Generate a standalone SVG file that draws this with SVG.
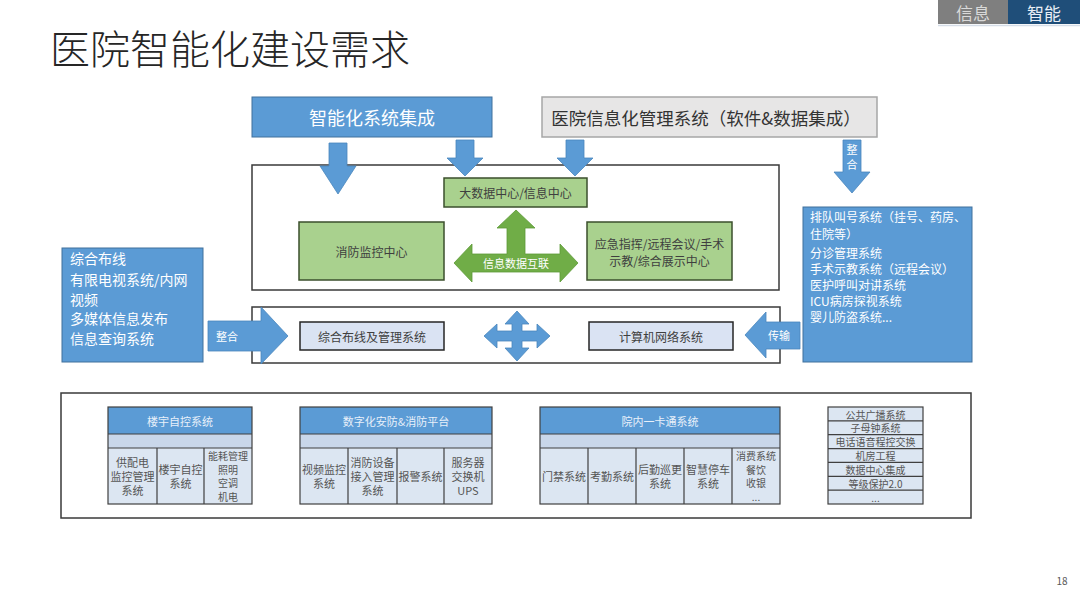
<svg xmlns="http://www.w3.org/2000/svg" width="1080" height="608" viewBox="0 0 1080 608">
<style>
text{font-family:"Noto Sans CJK SC","Noto Sans",sans-serif;}
.blue{fill:#5b9bd5;stroke:#41719c;stroke-width:1}
.cont{fill:#ffffff;stroke:#3a3a3a;stroke-width:1.5}
.green{fill:#a9d18e;stroke:#3b4f2c;stroke-width:1.5}
.lb{fill:#dae3f3;stroke:#262626;stroke-width:1.5}
.arr{fill:#5b9bd5;stroke:#4a86bd;stroke-width:0.8}
.garr{fill:#70ad47;stroke:#5e9a38;stroke-width:0.8}
.wt{fill:#ffffff;font-size:11px}
.dk{fill:#3f3f3f;font-size:12px}
.cell{fill:#555555;font-size:11px}
.c4{font-size:10px}
.hdr{fill:#5b9bd5}
.blank{fill:#c9d7ea}
.cbg{fill:#dce6f2}
.tl{stroke:#404040;stroke-width:1.2;fill:none}
.tt{fill:#e8f0fa;font-size:11px}
</style>
<rect width="1080" height="608" fill="#ffffff"/>

<g id="tabs">
<rect x="938" y="0" width="70" height="24" fill="#7f7f7f"/>
<text x="973" y="12" font-size="17" fill="#d9d9d9" text-anchor="middle" dominant-baseline="central">信息</text>
<rect x="1008" y="0" width="72" height="24" fill="#1f4e79"/>
<text x="1044" y="12" font-size="17" fill="#e8eef6" text-anchor="middle" dominant-baseline="central">智能</text>
<line x1="938" y1="25.5" x2="1080" y2="25.5" stroke="#d5dde8" stroke-width="1.5"/>
</g>

<g id="title">
<text x="50" y="47" font-size="40" font-weight="300" fill="#262626" dominant-baseline="central">医院智能化建设需求</text>
</g>

<g id="zhinenghua">
<rect class="blue" x="252" y="97" width="240" height="40"/>
<text x="372" y="117" font-size="18" fill="#ffffff" text-anchor="middle" dominant-baseline="central">智能化系统集成</text>
</g>

<g id="his">
<rect x="542" y="97" width="335" height="40" fill="#e7e6e6" stroke="#a6a6a6" stroke-width="1.5"/>
<text x="706" y="117" font-size="17.5" fill="#333333" text-anchor="middle" dominant-baseline="central">医院信息化管理系统（软件&amp;数据集成）</text>
</g>

<g id="upper-container">
<rect class="cont" x="252" y="165" width="527" height="125"/>
</g>

<g id="lower-container">
<rect class="cont" x="252" y="307" width="528" height="56"/>
</g>

<g id="bigdata">
<rect class="green" x="444" y="178" width="143" height="29"/>
<text class="dk" x="515.5" y="192.5" text-anchor="middle" dominant-baseline="central">大数据中心/信息中心</text>
</g>

<g id="fire-center">
<rect class="green" x="299" y="222" width="145" height="58"/>
<text class="dk" x="371.5" y="251" text-anchor="middle" dominant-baseline="central">消防监控中心</text>
</g>

<g id="emergency">
<rect class="green" x="587" y="222" width="145" height="58"/>
<text class="dk" x="659.5" y="243" text-anchor="middle" dominant-baseline="central">应急指挥/远程会议/手术</text>
<text class="dk" x="659.5" y="260" text-anchor="middle" dominant-baseline="central">示教/综合展示中心</text>
</g>

<g id="cabling">
<rect class="lb" x="300" y="322" width="144" height="28"/>
<text class="dk" x="372" y="336" text-anchor="middle" dominant-baseline="central">综合布线及管理系统</text>
</g>

<g id="network">
<rect class="lb" x="589" y="322" width="144" height="28"/>
<text class="dk" x="661" y="336" text-anchor="middle" dominant-baseline="central">计算机网络系统</text>
</g>

<g id="left-list">
<rect class="blue" x="62" y="248" width="141" height="114"/>
<g fill="#ffffff" font-size="14">
<text x="70" y="258" dominant-baseline="central">综合布线</text>
<text x="70" y="279" dominant-baseline="central">有限电视系统/内网</text>
<text x="70" y="298.5" dominant-baseline="central">视频</text>
<text x="70" y="318" dominant-baseline="central">多媒体信息发布</text>
<text x="70" y="337.5" dominant-baseline="central">信息查询系统</text>
</g>
</g>

<g id="right-list">
<rect class="blue" x="803" y="207" width="169" height="155"/>
<g fill="#ffffff" font-size="12">
<text x="810" y="216" dominant-baseline="central">排队叫号系统（挂号、药房、</text>
<text x="810" y="233" dominant-baseline="central">住院等）</text>
<text x="810" y="252" dominant-baseline="central">分诊管理系统</text>
<text x="810" y="268" dominant-baseline="central">手术示教系统（远程会议）</text>
<text x="810" y="284" dominant-baseline="central">医护呼叫对讲系统</text>
<text x="810" y="300" dominant-baseline="central">ICU病房探视系统</text>
<text x="810" y="316" dominant-baseline="central">婴儿防盗系统...</text>
</g>
</g>

<g id="connectors">
<polygon class="arr" points="329,143 347,143 347,166 356,166 338,194 320,166 329,166"/>
<polygon class="arr" points="456,140 474,140 474,158 483,158 465,176 447,158 456,158"/>
<polygon class="arr" points="566,140 584,140 584,158 593,158 575,176 557,158 566,158"/>
<polygon class="arr" points="843,140 861,140 861,172 870,172 852,193 834,172 843,172"/>
<text class="wt" x="852" y="149" text-anchor="middle" dominant-baseline="central">整</text>
<text class="wt" x="852" y="164" text-anchor="middle" dominant-baseline="central">合</text>
<path class="garr" d="M516,210 L535,228 L525,228 L525,254 L560,254 L560,244 L578,263 L560,282 L560,272 L472,272 L472,282 L454,263 L472,244 L472,254 L507,254 L507,228 L497,228 Z"/>
<text class="wt" x="516" y="263" text-anchor="middle" dominant-baseline="central">信息数据互联</text>
<path class="arr" d="M517,311 L529,324 L522,324 L522,331 L537,331 L537,324 L550,336 L537,348 L537,341 L522,341 L522,348 L529,348 L517,361 L505,348 L512,348 L512,341 L497,341 L497,348 L484,336 L497,324 L497,331 L512,331 L512,324 L505,324 Z"/>
<polygon class="arr" points="208,321 261,321 261,307 288,336 261,364 261,351 208,351"/>
<text class="wt" x="227" y="336" text-anchor="middle" dominant-baseline="central">整合</text>
<polygon class="arr" points="800,322 766,322 766,312 745,335 766,358 766,349 800,349"/>
<text class="wt" x="779" y="335" text-anchor="middle" dominant-baseline="central">传输</text>
</g>

<g id="bottom-container">
<rect x="61" y="393" width="910" height="125" fill="#ffffff" stroke="#3a3a3a" stroke-width="1.5"/>
</g>

<g id="table-bas">
<rect class="hdr" x="108" y="407" width="144" height="27"/>
<rect class="blank" x="108" y="434" width="144" height="14"/>
<rect class="cbg" x="108" y="448" width="144" height="56"/>
<rect class="tl" x="108" y="407" width="144" height="97"/>
<path class="tl" d="M108,434 H252 M108,448 H252 M157,448 V504 M204,448 V504"/>
<text class="tt" x="180" y="420.5" text-anchor="middle" dominant-baseline="central">楼宇自控系统</text>
<g class="cell" text-anchor="middle">
<text x="132.5" y="462" dominant-baseline="central">供配电</text>
<text x="132.5" y="476" dominant-baseline="central">监控管理</text>
<text x="132.5" y="490" dominant-baseline="central">系统</text>
<text x="180.5" y="469" dominant-baseline="central">楼宇自控</text>
<text x="180.5" y="483" dominant-baseline="central">系统</text>
<text class="c4" x="228" y="455.5" dominant-baseline="central">能耗管理</text>
<text class="c4" x="228" y="469.2" dominant-baseline="central">照明</text>
<text class="c4" x="228" y="482.8" dominant-baseline="central">空调</text>
<text class="c4" x="228" y="496.5" dominant-baseline="central">机电</text>
</g>
</g>

<g id="table-security">
<rect class="hdr" x="300" y="407" width="192" height="27"/>
<rect class="blank" x="300" y="434" width="192" height="14"/>
<rect class="cbg" x="300" y="448" width="192" height="56"/>
<rect class="tl" x="300" y="407" width="192" height="97"/>
<path class="tl" d="M300,434 H492 M300,448 H492 M348,448 V504 M397,448 V504 M444,448 V504"/>
<text class="tt" x="396" y="420.5" text-anchor="middle" dominant-baseline="central">数字化安防&amp;消防平台</text>
<g class="cell" text-anchor="middle">
<text x="324" y="469" dominant-baseline="central">视频监控</text>
<text x="324" y="483" dominant-baseline="central">系统</text>
<text x="372.5" y="462" dominant-baseline="central">消防设备</text>
<text x="372.5" y="476" dominant-baseline="central">接入管理</text>
<text x="372.5" y="490" dominant-baseline="central">系统</text>
<text x="420.5" y="476" dominant-baseline="central">报警系统</text>
<text x="468" y="462" dominant-baseline="central">服务器</text>
<text x="468" y="476" dominant-baseline="central">交换机</text>
<text x="468" y="490" dominant-baseline="central">UPS</text>
</g>
</g>

<g id="table-card">
<rect class="hdr" x="540" y="407" width="240" height="27"/>
<rect class="blank" x="540" y="434" width="240" height="14"/>
<rect class="cbg" x="540" y="448" width="240" height="56"/>
<rect class="tl" x="540" y="407" width="240" height="97"/>
<path class="tl" d="M540,434 H780 M540,448 H780 M588,448 V504 M636,448 V504 M684,448 V504 M732,448 V504"/>
<text class="tt" x="660" y="420.5" text-anchor="middle" dominant-baseline="central">院内一卡通系统</text>
<g class="cell" text-anchor="middle">
<text x="564" y="476" dominant-baseline="central">门禁系统</text>
<text x="612" y="476" dominant-baseline="central">考勤系统</text>
<text x="660" y="469" dominant-baseline="central">后勤巡更</text>
<text x="660" y="483" dominant-baseline="central">系统</text>
<text x="708" y="469" dominant-baseline="central">智慧停车</text>
<text x="708" y="483" dominant-baseline="central">系统</text>
<text class="c4" x="756" y="455.5" dominant-baseline="central">消费系统</text>
<text class="c4" x="756" y="469.2" dominant-baseline="central">餐饮</text>
<text class="c4" x="756" y="482.8" dominant-baseline="central">收银</text>
<text class="c4" x="756" y="496.5" dominant-baseline="central">...</text>
</g>
</g>

<g id="table-list">
<rect class="cbg" x="828" y="407" width="95" height="97"/>
<rect class="tl" x="828" y="407" width="95" height="97"/>
<path class="tl" d="M828,420.9 H923 M828,434.7 H923 M828,448.6 H923 M828,462.4 H923 M828,476.3 H923 M828,490.1 H923"/>
<g class="cell" text-anchor="middle" fill="#404040" font-size="10px" style="font-size:10px">
<text x="875.5" y="414" dominant-baseline="central">公共广播系统</text>
<text x="875.5" y="427.8" dominant-baseline="central">子母钟系统</text>
<text x="875.5" y="441.6" dominant-baseline="central">电话语音程控交换</text>
<text x="875.5" y="455.5" dominant-baseline="central">机房工程</text>
<text x="875.5" y="469.3" dominant-baseline="central">数据中心集成</text>
<text x="875.5" y="483.2" dominant-baseline="central">等级保护2.0</text>
<text x="875.5" y="497" dominant-baseline="central">...</text>
</g>
</g>

<g id="page-number">
<text x="1062" y="580" font-size="10" fill="#595959" text-anchor="middle" dominant-baseline="central">18</text>
</g>
</svg>
